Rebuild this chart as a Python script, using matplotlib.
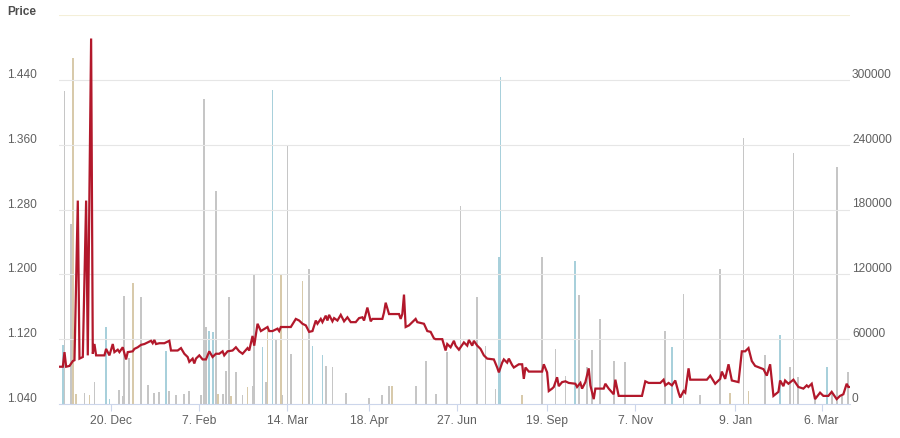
import matplotlib
matplotlib.use('Agg')
import matplotlib.pyplot as plt
from matplotlib import transforms

plt.rcParams['font.family'] = ['Liberation Sans', 'DejaVu Sans']

# ordinal day index (only days with data), price
price_points = [
    (0, 1.086), (2, 1.086), (3, 1.104), (4, 1.086), (6, 1.087), (8, 1.093), (9, 1.094),
    (11, 1.291), (12, 1.096), (14, 1.098), (16, 1.291), (17, 1.100), (18, 1.305), (19, 1.491),
    (20, 1.102), (21, 1.114), (22, 1.100), (27, 1.100), (28, 1.108), (30, 1.100), (32, 1.114),
    (33, 1.104), (35, 1.107), (36, 1.104), (38, 1.110), (40, 1.095), (41, 1.104), (44, 1.105),
    (45, 1.108), (47, 1.110), (49, 1.113), (51, 1.114), (53, 1.116), (55, 1.118), (56, 1.115),
    (57, 1.119), (58, 1.114), (60, 1.115), (63, 1.115), (66, 1.118), (67, 1.106), (71, 1.106),
    (73, 1.109), (75, 1.102), (77, 1.098), (78, 1.092), (80, 1.096), (81, 1.090), (82, 1.096),
    (84, 1.100), (86, 1.095), (88, 1.095), (90, 1.105), (92, 1.098), (94, 1.102), (96, 1.102),
    (98, 1.105), (99, 1.100), (101, 1.105), (104, 1.106), (106, 1.110), (108, 1.105), (110, 1.102),
    (113, 1.109), (114, 1.106), (116, 1.124), (117, 1.112), (119, 1.139), (121, 1.130), (125, 1.135),
    (126, 1.130), (128, 1.130), (131, 1.133), (132, 1.130), (133, 1.135), (139, 1.135), (142, 1.145),
    (144, 1.143), (146, 1.139), (148, 1.137), (150, 1.129), (152, 1.130), (154, 1.143), (155, 1.139),
    (157, 1.145), (158, 1.141), (160, 1.149), (161, 1.143), (162, 1.150), (164, 1.142), (165, 1.146),
    (167, 1.143), (169, 1.150), (171, 1.142), (173, 1.147), (175, 1.141), (178, 1.141), (180, 1.146),
    (182, 1.147), (183, 1.143), (185, 1.159), (187, 1.142), (188, 1.145), (194, 1.145), (195, 1.153),
    (196, 1.165), (198, 1.151), (204, 1.151), (205, 1.145), (206, 1.151), (207, 1.175), (208, 1.135),
    (210, 1.137), (212, 1.141), (214, 1.145), (215, 1.141), (219, 1.139), (221, 1.130), (223, 1.129),
    (225, 1.121), (226, 1.120), (230, 1.120), (232, 1.106), (233, 1.114), (235, 1.110), (237, 1.118),
    (238, 1.112), (240, 1.107), (242, 1.113), (243, 1.116), (245, 1.112), (246, 1.119), (248, 1.112),
    (249, 1.118), (251, 1.112), (253, 1.108), (255, 1.100), (257, 1.096), (261, 1.095), (263, 1.085),
    (264, 1.079), (266, 1.091), (267, 1.095), (269, 1.091), (270, 1.096), (272, 1.088), (273, 1.085),
    (276, 1.089), (278, 1.089), (279, 1.071), (280, 1.085), (282, 1.080), (290, 1.080), (291, 1.089),
    (293, 1.079), (294, 1.056), (296, 1.059), (297, 1.061), (299, 1.073), (300, 1.062), (302, 1.067),
    (304, 1.068), (306, 1.066), (310, 1.065), (311, 1.061), (313, 1.066), (314, 1.059), (316, 1.067),
    (318, 1.084), (319, 1.063), (321, 1.046), (322, 1.059), (327, 1.059), (328, 1.065), (330, 1.059),
    (333, 1.052), (334, 1.070), (336, 1.050), (350, 1.050), (352, 1.068), (354, 1.066), (361, 1.066),
    (363, 1.070), (364, 1.063), (366, 1.066), (368, 1.063), (370, 1.069), (372, 1.054), (373, 1.048),
    (375, 1.056), (376, 1.054), (378, 1.084), (379, 1.070), (389, 1.070), (391, 1.075), (394, 1.065),
    (397, 1.071), (398, 1.080), (400, 1.071), (402, 1.089), (404, 1.069), (408, 1.067), (410, 1.105),
    (412, 1.105), (414, 1.109), (416, 1.093), (418, 1.087), (423, 1.083), (425, 1.075), (427, 1.089),
    (429, 1.050), (432, 1.055), (433, 1.069), (435, 1.062), (436, 1.069), (438, 1.065), (441, 1.070),
    (444, 1.061), (447, 1.059), (449, 1.063), (450, 1.061), (452, 1.065), (454, 1.046), (457, 1.054),
    (459, 1.050), (462, 1.050), (464, 1.055), (467, 1.046), (469, 1.050), (471, 1.052), (473, 1.065),
    (474, 1.061), (475, 1.061),
]

# volume per day, three sources
vol_a = [  # grey
    (3, 290000), (7, 167000), (15, 10000), (21, 20000), (36, 13000), (38, 7000), (39, 100000),
    (42, 43000), (49, 99000), (53, 18000), (57, 10000), (60, 11000), (66, 12000), (70, 8000),
    (75, 9000), (78, 12000), (85, 8000), (87, 282000), (88, 71000), (94, 197000), (98, 9000),
    (100, 31000), (102, 99000), (106, 30000), (110, 8000), (116, 17000), (117, 119000), (124, 20000),
    (130, 59000), (134, 8000), (137, 239000), (139, 46000), (150, 125000), (160, 35000), (164, 34000),
    (172, 10000), (186, 6000), (194, 8000), (198, 17000), (214, 17000), (220, 40000), (226, 9000),
    (233, 48000), (241, 183000), (251, 99000), (256, 54000), (262, 14000), (290, 136000),
    (298, 51000), (304, 26000), (312, 101000), (317, 34000), (320, 50000), (325, 79000),
    (333, 40000), (340, 39000), (364, 68000), (375, 102000), (385, 8000), (397, 125000),
    (411, 246000), (424, 45000), (439, 34000), (441, 232000), (444, 25000), (454, 8000),
    (464, 10000), (467, 219000), (470, 8000), (474, 30000),
]
vol_b = [  # light blue
    (2, 55000), (28, 71000), (30, 5000), (64, 49000), (90, 68000), (92, 67000), (122, 53000),
    (128, 291000), (152, 54000), (158, 45000), (264, 136000), (265, 303000), (310, 132000),
    (368, 53000), (433, 64000), (461, 34000),
]
vol_c = [  # tan
    (8, 320000), (10, 9000), (18, 8000), (44, 112000), (95, 9000), (103, 7000), (113, 16000),
    (125, 69000), (133, 120000), (146, 114000), (200, 17000), (278, 8000), (403, 10000), (414, 12000),
]

tick_day = [31, 84, 137, 186, 239, 293, 346, 406, 458]
tick_label = ['20. Dec', '7. Feb', '14. Mar', '18. Apr', '27. Jun', '19. Sep', '7. Nov', '9. Jan', '6. Mar']
price_ticks = [1.040, 1.120, 1.200, 1.280, 1.360, 1.440]
vol_ticks = [0, 60000, 120000, 180000, 240000, 300000]

fig = plt.figure(figsize=(9, 4.39), dpi=100)
ax = fig.add_axes([59.5 / 900, 34 / 439, 790.5 / 900, 389 / 439])
ax2 = ax.twinx()
ax.set_zorder(ax2.get_zorder() + 1)
ax.patch.set_visible(False)

# volume bars
for series, col in [(vol_a, '#c6c6c6'), (vol_b, '#a8d0db'), (vol_c, '#d8caab')]:
    d = [p[0] for p in series]
    v = [p[1] for p in series]
    ax2.bar(d, v, width=1.1, color=col, linewidth=0)

# price line
ax.plot([p[0] for p in price_points], [p[1] for p in price_points],
        color='#b2182b', lw=1.6, solid_joinstyle='miter', zorder=3)

ax.set_xlim(0, 475)
ax.set_ylim(1.04, 1.52)
ax2.set_ylim(0, 360000)

# grid
for t in price_ticks[1:]:
    ax.axhline(t, color='#e6e6e6', lw=0.8, zorder=0)
ax.axhline(1.52, color='#f4efd8', lw=0.8, zorder=0)

for a in (ax, ax2):
    for s in ['top', 'left', 'right']:
        a.spines[s].set_visible(False)
    a.set_yticks([])
ax2.spines['bottom'].set_visible(False)
ax.spines['bottom'].set_color('#ccd6eb')
ax.spines['bottom'].set_linewidth(0.8)

ax.set_xticks(tick_day)
ax.set_xticklabels(tick_label, fontsize=8.7, color='#606060')
ax.tick_params(axis='x', length=5, width=0.8, color='#ccd6eb', pad=2.5)
ax2.tick_params(axis='x', bottom=False, labelbottom=False)

# axis labels sit a few pixels above their grid lines
up = transforms.ScaledTranslation(0, 6 / 100, fig.dpi_scale_trans)
left_tr = transforms.blended_transform_factory(fig.transFigure, ax.transData) + up
right_tr = transforms.blended_transform_factory(fig.transFigure, ax2.transData) + up
for t in price_ticks:
    ax.text(7 / 900, t, '%.3f' % t, transform=left_tr, ha='left', va='center',
            fontsize=8.6, color='#606060')
for t in vol_ticks:
    ax2.text(852 / 900, t, str(t), transform=right_tr, ha='left', va='center',
             fontsize=8.6, color='#606060')

fig.text(7 / 900, 1 - 12 / 439, 'Price', ha='left', va='center', fontsize=8.6,
         fontweight='bold', color='#4d4d4d')

fig.savefig('out.png', dpi=100)
